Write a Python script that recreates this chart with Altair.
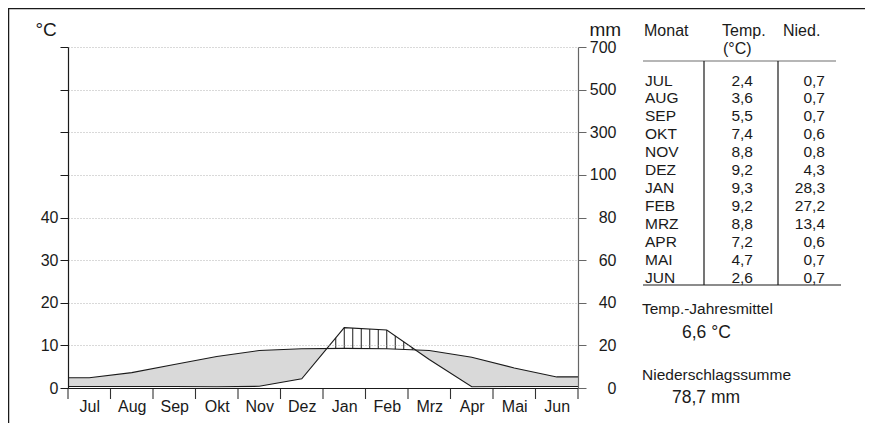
import altair as alt
import pandas as pd
import numpy as np

# ---------------- data ----------------
months = ["Jul", "Aug", "Sep", "Okt", "Nov", "Dez", "Jan", "Feb", "Mrz", "Apr", "Mai", "Jun"]
months_upper = ["JUL", "AUG", "SEP", "OKT", "NOV", "DEZ", "JAN", "FEB", "MRZ", "APR", "MAI", "JUN"]
temp = [2.4, 3.6, 5.5, 7.4, 8.8, 9.2, 9.3, 9.2, 8.8, 7.2, 4.7, 2.6]
precip = [0.7, 0.7, 0.7, 0.6, 0.8, 4.3, 28.3, 27.2, 13.4, 0.6, 0.7, 0.7]
y_ticks = [0, 10, 20, 30, 40, 50, 60, 70, 80]
annual_mean = "6,6 °C"
annual_sum = "78,7 mm"

FONT = "Liberation Sans"
INK = "#1a1a1a"
W, H = 510, 341

def de(v):
    return f"{v:.1f}".replace(".", ",")

# line series (ends extended flat to the frame edges)
centers = [i + 0.5 for i in range(12)]
xs = [0.0] + centers + [12.0]
T = [temp[0]] + temp + [temp[-1]]
P = [p / 2 for p in [precip[0]] + precip + [precip[-1]]]  # 10 °C = 20 mm
lines_df = pd.DataFrame({"x": xs, "T": T, "P": P})

# hatch pattern (humid period) - vertical strokes between the two curves
hx = np.round(np.arange(6.1, 8.15, 0.2), 2)
ht = np.interp(hx, xs, T)
hp = np.interp(hx, xs, P)
keep = hp > ht
hatch_df = pd.DataFrame({"hx": hx[keep], "ht": ht[keep], "hp": hp[keep]})

bounds_df = pd.DataFrame({"b": list(range(13))})

table_df = pd.DataFrame({
    "idx": list(range(12)),
    "m": months_upper,
    "t": [de(v) for v in temp],
    "n": [de(v) for v in precip],
})

# ---------------- scales / axes ----------------
xscale = alt.Scale(domain=[0, 12], nice=False, zero=False)
yscale = alt.Scale(domain=[0, 80], nice=False, zero=False)

month_expr = "[" + ",".join(f"'{m}'" for m in months) + "][floor(datum.value)]"
x_axis = alt.Axis(values=centers, labelExpr=month_expr, ticks=False, title=None,
                  grid=False, domainColor=INK, domainWidth=1.2, labelFont=FONT,
                  labelFontSize=16, labelColor=INK, labelPadding=10, zindex=1)

left_axis = alt.Axis(values=y_ticks, labelExpr="datum.value <= 40 ? datum.value : ''",
                     title="°C", titleAngle=0, titleAlign="left", titleBaseline="alphabetic",
                     titleX=-33, titleY=-12, titleFontSize=19, titleFontWeight="normal",
                     titleColor=INK, titleFont=FONT,
                     grid=True, gridDash=[1, 2], gridColor="#a0a0a0", gridWidth=0.8,
                     tickSize=8, tickColor=INK, domainColor=INK, domainWidth=1.2,
                     labelFont=FONT, labelFontSize=16, labelPadding=2, labelColor=INK, zindex=1)

right_axis = alt.Axis(values=y_ticks, orient="right",
                      labelExpr="datum.value <= 50 ? datum.value * 2 : (datum.value - 50) * 20 + 100",
                      title="mm", titleAngle=0, titleAlign="left", titleBaseline="alphabetic",
                      titleX=11, titleY=-12, titleFontSize=19, titleFontWeight="normal",
                      titleColor=INK, titleFont=FONT, grid=False,
                      tickSize=8, tickColor="#666666", domainColor="#666666", domainWidth=1.2,
                      labelAlign="right", labelFont=FONT, labelFontSize=16, labelPadding=30,
                      labelColor=INK, zindex=1)

def X(field):
    return alt.X(field, type="quantitative", scale=xscale, axis=x_axis)

base = alt.Chart(lines_df)

grey = base.mark_area(color="#d9d9d9").encode(
    x=X("x"), y=alt.Y("T:Q", scale=yscale, axis=left_axis))
white = base.mark_area(color="white").encode(
    x=X("x"), y=alt.Y("P:Q", scale=yscale, axis=right_axis))
hatch = alt.Chart(hatch_df).mark_rule(color=INK, strokeWidth=1).encode(
    x=X("hx"), y=alt.Y("ht:Q", scale=yscale, axis=None), y2="hp:Q")
tline = base.mark_line(color=INK, strokeWidth=1.1).encode(
    x=X("x"), y=alt.Y("T:Q", scale=yscale, axis=None))
pline = base.mark_line(color=INK, strokeWidth=1.1).encode(
    x=X("x"), y=alt.Y("P:Q", scale=yscale, axis=None))
bticks = alt.Chart(bounds_df).mark_rule(color="#333333", strokeWidth=1.1).encode(
    x=X("b"), y=alt.value(H), y2=alt.value(H + 11))

main = alt.layer(grey, white, hatch, tline, pline, bticks).resolve_axis(y="independent")

# ---------------- table and summary ----------------
row_y = alt.Y("idx:Q", scale=alt.Scale(domain=[0, 11], range=[33.5, 230.5], nice=False, zero=False), axis=None)
tbase = alt.Chart(table_df)
col_m = tbase.mark_text(align="left", baseline="middle", font=FONT, fontSize=15.5, color=INK).encode(
    x=alt.value(577), y=row_y, text="m:N")
col_t = tbase.mark_text(align="right", baseline="middle", font=FONT, fontSize=15.5, color=INK).encode(
    x=alt.value(685), y=row_y, text="t:N")
col_n = tbase.mark_text(align="right", baseline="middle", font=FONT, fontSize=15.5, color=INK).encode(
    x=alt.value(757), y=row_y, text="n:N")

def label(txt, x, y, size=15.5, align="left"):
    return alt.Chart(pd.DataFrame({"s": [txt]})).mark_text(
        align=align, baseline="middle", font=FONT, fontSize=size, color=INK
    ).encode(x=alt.value(x), y=alt.value(y), text="s:N")

def hrule(x1, x2, y, color=INK, w=1.2):
    return alt.Chart(pd.DataFrame({"k": [0]})).mark_rule(color=color, strokeWidth=w).encode(
        x=alt.value(x1), x2=alt.value(x2), y=alt.value(y))

def vrule(x, y1, y2, color=INK, w=1.2):
    return alt.Chart(pd.DataFrame({"k": [0]})).mark_rule(color=color, strokeWidth=w).encode(
        x=alt.value(x), y=alt.value(y1), y2=alt.value(y2))

table = alt.layer(
    label("Monat", 576, -16, 16),
    label("Temp.", 654, -16, 16),
    label("(°C)", 655, 2, 16),
    label("Nied.", 715, -16, 16),
    hrule(575, 768, 14, "#6e6e6e"),
    hrule(575, 773, 238),
    vrule(636, 14, 238),
    vrule(710, 14, 238),
    col_m, col_t, col_n,
    label("Temp.-Jahresmittel", 574, 262, 15.5),
    label(annual_mean, 614, 286, 17.5),
    label("Niederschlagssumme", 574, 328, 15.5),
    label(annual_sum, 604, 351, 17.5),
    hrule(-60, 797, -38.5, INK, 1.5),
    vrule(-59.5, -39, 376, INK, 1.5),
)

chart = alt.layer(main, table).resolve_scale(x="independent", y="independent").properties(
    width=W, height=H,
    padding={"left": 60, "top": 39, "right": 287, "bottom": 35},
    autosize=alt.AutoSizeParams(type="none"),
    background="white",
).configure_view(stroke=None)

chart.save("out.html", embed_options={"renderer": "svg", "actions": False})
